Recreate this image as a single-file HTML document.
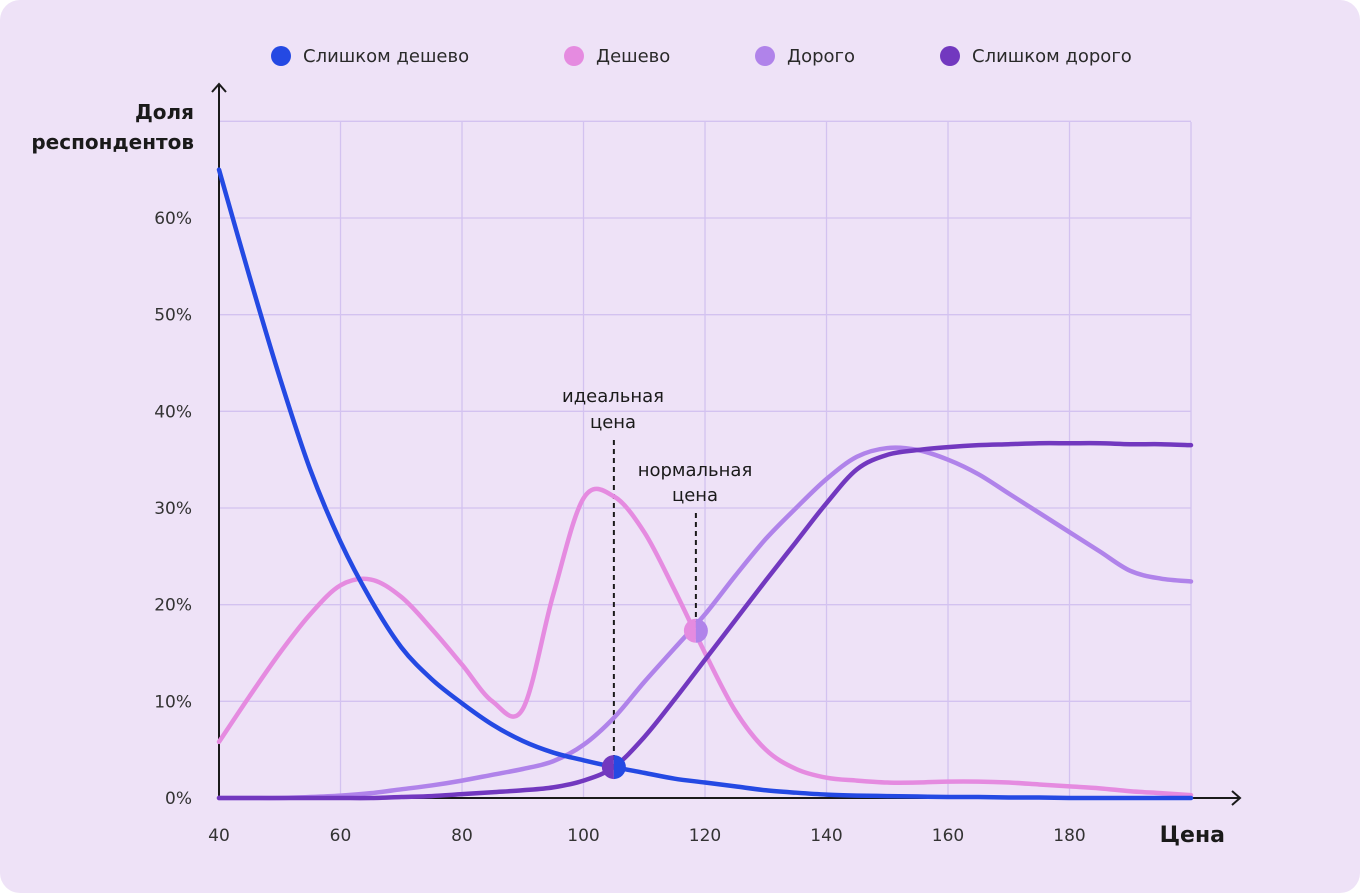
<!DOCTYPE html>
<html><head><meta charset="utf-8"><style>
html,body{margin:0;padding:0;background:#fff}
#wrap{position:relative;width:1360px;height:893px;background:#eee2f7;border-radius:20px;overflow:hidden;font-family:"DejaVu Sans","Liberation Sans",sans-serif}
svg{position:absolute;left:0;top:0}
</style></head><body>
<div id="wrap">
<svg id="chart" width="1360" height="893"></svg>
</div>
<script>
const xTicks=[40,60,80,100,120,140,160,180];
const yTicks=[0,10,20,30,40,50,60];
const seriesNames=["Слишком дешево","Дешево","Дорого","Слишком дорого"];
const seriesColors=["#2449e3","#e58be0","#b083ea","#7238bf"];
const priceX=[40,45,50,55,60,65,70,75,80,85,90,95,100,105,110,115,120,125,130,135,140,145,150,155,160,165,170,175,180,185,190,195,200];
const tooCheapY=[65,54,43.5,34,26.5,20.5,15.6,12.3,9.8,7.6,5.9,4.7,3.9,3.2,2.6,2.0,1.6,1.2,0.8,0.55,0.35,0.25,0.2,0.15,0.1,0.1,0.05,0.05,0,0,0,0,0];
const cheapY=[5.8,10.5,15,19,22,22.6,20.8,17.5,13.8,10,9.2,21,31,31.2,27.5,21.5,15,9,5,3,2.1,1.8,1.6,1.6,1.7,1.7,1.6,1.4,1.2,1,0.7,0.5,0.3];
const expY=[0,0,0,0.1,0.25,0.5,0.9,1.3,1.8,2.4,3,3.8,5.5,8.3,12,15.5,19,23,26.8,30,33,35.3,36.2,36,35,33.5,31.5,29.5,27.5,25.5,23.5,22.7,22.4];
const tooExpY=[0,0,0,0,0,0,0.1,0.2,0.4,0.6,0.8,1.1,1.8,3.2,6.3,10.2,14.3,18.4,22.5,26.5,30.5,34,35.5,36,36.3,36.5,36.6,36.7,36.7,36.7,36.6,36.6,36.5];
const idealPrice=[105,3.2];
const normalPrice=[118.5,17.3];

const NS="http://www.w3.org/2000/svg";
const svg=document.getElementById('chart');
const px=x=>219+(x-40)*(1191-219)/160;
const py=v=>798-v*(798-218)/60;
function el(t,a,p){const e=document.createElementNS(NS,t);for(const k in a)e.setAttribute(k,a[k]);(p||svg).appendChild(e);return e;}
function txt(s,a){const e=el('text',a);e.textContent=s;return e;}

for(let i=0;i<=8;i++){const x=px(40+i*20);const g=el('line',{x1:x,y1:122,x2:x,y2:798,stroke:'#d3c2f0','stroke-width':1.3});
}
for(let v=10;v<=70;v+=10){const g=el('line',{x1:219,y1:py(v),x2:1191,y2:py(v),stroke:'#d3c2f0','stroke-width':1.3});
}

const ax=el('path',{d:'M219,800 V84 M212,92 L219,84 L226,92',fill:'none',stroke:'#1a1a1a','stroke-width':2});

const axx=el('path',{d:'M217,798 H1240 M1232,791 L1240,798 L1232,805',fill:'none',stroke:'#1a1a1a','stroke-width':2});


xTicks.forEach(t=>{const e=txt(t,{x:px(t),y:841,'text-anchor':'middle','font-size':17,fill:'#333'});
});
yTicks.forEach(t=>{const e=txt(t+'%',{x:192,y:py(t)+6,'text-anchor':'end','font-size':17,fill:'#333'});
});

let t1=txt('Доля',{x:194,y:119,'text-anchor':'end','font-size':20,'font-weight':'bold',fill:'#1a1a1a'});

let t2=txt('респондентов',{x:194,y:149,'text-anchor':'end','font-size':20,'font-weight':'bold',fill:'#1a1a1a'});

let t3=txt('Цена',{x:1225,y:842,'text-anchor':'end','font-size':22,'font-weight':'bold',fill:'#1a1a1a'});


function smooth(xs,ys){const P=xs.map((x,i)=>[px(x),py(ys[i])]);let d='M'+P[0][0]+','+P[0][1];
for(let i=0;i<P.length-1;i++){const p0=P[Math.max(0,i-1)],p1=P[i],p2=P[i+1],p3=P[Math.min(P.length-1,i+2)];
const c1=[p1[0]+(p2[0]-p0[0])/6,p1[1]+(p2[1]-p0[1])/6],c2=[p2[0]-(p3[0]-p1[0])/6,p2[1]-(p3[1]-p1[1])/6];
d+=` C${c1[0]},${c1[1]} ${c2[0]},${c2[1]} ${p2[0]},${p2[1]}`;}return d;}

const d1=el('line',{x1:px(idealPrice[0]),y1:440,x2:px(idealPrice[0]),y2:py(idealPrice[1]),stroke:'#1a1a1a','stroke-width':2,'stroke-dasharray':'5,4'});

const d2=el('line',{x1:px(normalPrice[0]),y1:513,x2:px(normalPrice[0]),y2:py(normalPrice[1]),stroke:'#1a1a1a','stroke-width':2,'stroke-dasharray':'5,4'});


const data=[tooCheapY,cheapY,expY,tooExpY];
const names=['too-cheap-line','cheap-line','expensive-line','too-expensive-line'];
[1,2,3,0].forEach(i=>{const p=el('path',{d:smooth(priceX,data[i]),fill:'none',stroke:seriesColors[i],'stroke-width':4.5,'stroke-linecap':'round'});
});

function split(pt,cl,cr,name){const x=px(pt[0]),y=py(pt[1]),r=12;
const g=el('g',{});
el('path',{d:`M${x},${y-r} A${r},${r} 0 0 0 ${x},${y+r} Z`,fill:cl},g);
el('path',{d:`M${x},${y-r} A${r},${r} 0 0 1 ${x},${y+r} Z`,fill:cr},g);}
split(idealPrice,seriesColors[3],seriesColors[0],'ideal-price-point');
split(normalPrice,seriesColors[1],seriesColors[2],'normal-price-point');

[['идеальная',613,402],['цена',613,428],['нормальная',695,476],['цена',695,501]].forEach(a=>{
const e=txt(a[0],{x:a[1],y:a[2],'text-anchor':'middle','font-size':18,fill:'#1a1a1a'});
});

const legX=[281,574,765,950];
seriesNames.forEach((n,i)=>{const g=el('g',{});
el('circle',{cx:legX[i],cy:56,r:10,fill:seriesColors[i]},g);
const t=el('text',{x:legX[i]+22,y:62,'font-size':18,fill:'#2a2a2a'},g);t.textContent=n;});
</script>
</body></html>
